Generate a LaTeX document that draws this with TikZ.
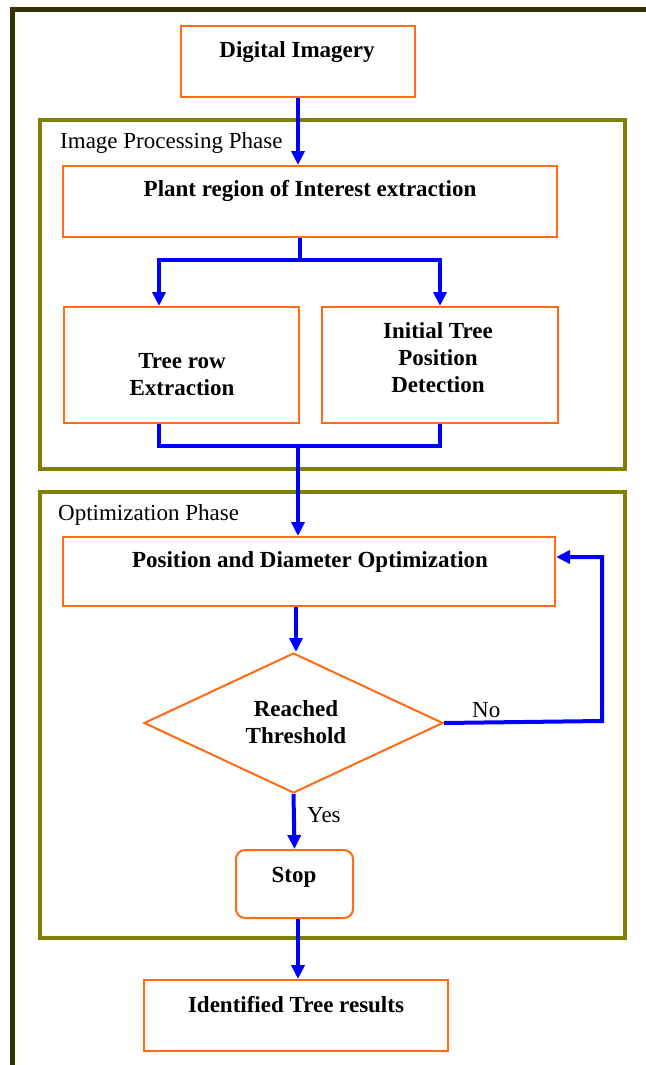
\documentclass[tikz,border=0pt]{standalone}
\usepackage{fontspec}
\setmainfont{Liberation Serif}
\usetikzlibrary{shapes.geometric,arrows.meta}
\definecolor{orng}{HTML}{FF6A13}
\definecolor{olv}{HTML}{808000}
\definecolor{dolv}{HTML}{333300}
\definecolor{arrblue}{HTML}{0000FF}
\begin{document}
\begin{tikzpicture}[x=1pt,y=-1pt,
  obox/.style={draw=orng,line width=2pt,inner sep=0},
  phase/.style={draw=olv,line width=4pt,inner sep=0},
  btxt/.style={font=\bfseries\fontsize{23}{27}\selectfont,align=center,inner sep=0},
  ntxt/.style={font=\fontsize{23}{27}\selectfont,inner sep=0,anchor=west},
  conn/.style={draw=arrblue,line width=4pt,line join=miter},
  arr/.style={conn,-{Triangle[length=14pt,width=13pt]}}]
\useasboundingbox (0,0) rectangle (645,1065);
% outer frame
\draw[dolv,line width=5pt] (12.5,1070) -- (12.5,10) -- (650,10);
% phase frames
\node[phase,minimum width=585pt,minimum height=349pt] (ipp) at (332.5,294.5) {};
\node[ntxt] (ippl) at (60,143) {Image Processing Phase};
\node[phase,minimum width=585pt,minimum height=446pt] (opp) at (332.5,715) {};
\node[ntxt] (oppl) at (58,515) {Optimization Phase};
% boxes
\node[obox,minimum width=234pt,minimum height=71pt] (dig) at (298,61.5) {};
\node[btxt] (digt) at (297,52) {Digital Imagery};
\node[obox,minimum width=494pt,minimum height=71pt] (plant) at (310,201.5) {};
\node[btxt] (plantt) at (310,191) {Plant region of Interest extraction};
\node[obox,minimum width=235pt,minimum height=116pt] (tree) at (181.5,365) {};
\node[btxt] (treet) at (182,375) {Tree row\\Extraction};
\node[obox,minimum width=236pt,minimum height=116pt] (init) at (440,365) {};
\node[btxt] (initt) at (438,358) {Initial Tree\\Position\\Detection};
\node[obox,minimum width=492pt,minimum height=69pt] (pos) at (309,571.5) {};
\node[btxt] (post) at (310,562) {Position and Diameter Optimization};
\node[draw=orng,line width=2pt,diamond,inner sep=0,minimum width=299pt,minimum height=140pt] (dec) at (293.5,723) {};
\node[btxt] (dect) at (296,722) {Reached\\Threshold};
\node[obox,rounded corners=9pt,minimum width=117pt,minimum height=68pt] (stop) at (294.5,884) {};
\node[btxt] (stopt) at (294,877) {Stop};
\node[obox,minimum width=304pt,minimum height=71pt] (res) at (296,1015.5) {};
\node[btxt] (rest) at (296,1005) {Identified Tree results};
% labels
\node[ntxt] (nol) at (472,710) {No};
\node[ntxt] (yesl) at (307,815) {Yes};
% helper coordinates
\coordinate (br) at (300,260);
\coordinate (bl) at (159,260);
\coordinate (bR) at (440,260);
\coordinate (ml) at (159,446);
\coordinate (mr) at (440,446);
\coordinate (mc) at (298,446);
\coordinate (fb) at (602,721);
\coordinate (ft) at (602,557);
\coordinate (ca2) at (296,0);
\coordinate (ca3) at (298,0);
% connectors
\draw[arr] (dig.south) -- (dig.south |- plant.north);
\draw[arr] (br |- plant.south) -- (br) -- (bl) -- (bl |- tree.north);
\draw[arr] (br) -- (bR) -- (bR |- init.north);
\draw[conn] (ml |- tree.south) -- (ml) -- (mr) -- (mr |- init.south);
\draw[arr] (mc) -- (mc |- pos.north);
\draw[arr] (ca2 |- pos.south) -- (ca2 |- dec.north);
\draw[arr] (dec.east) -- (fb) -- (ft) -- (ft -| pos.east);
\draw[arr] (dec.south) -- (stop.north);
\draw[arr] (ca3 |- stop.south) -- (ca3 |- res.north);
\end{tikzpicture}
\end{document}
